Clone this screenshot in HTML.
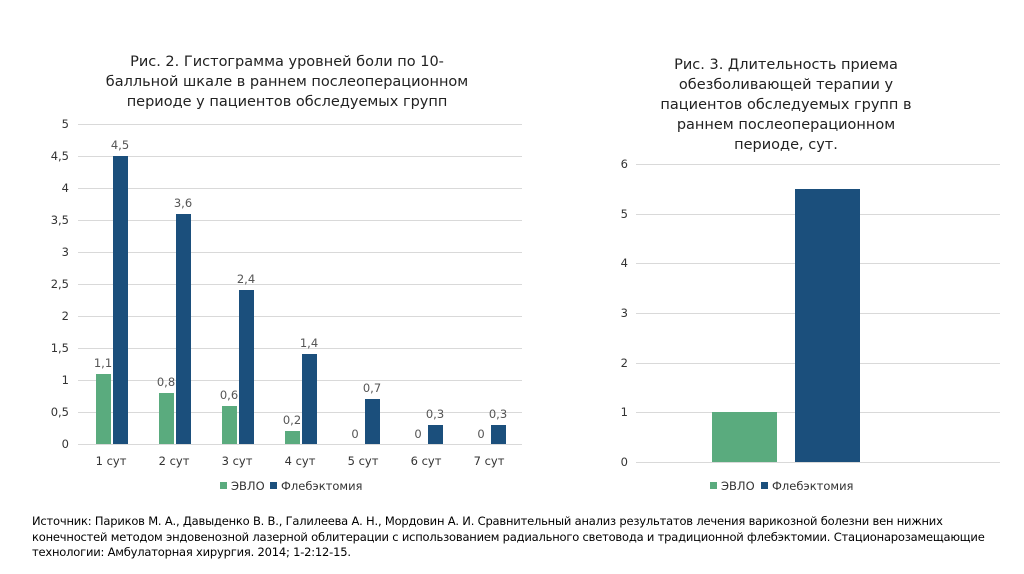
<!DOCTYPE html>
<html><head><meta charset="utf-8"><style>
body{margin:0;background:#fff;width:1024px;height:574px;overflow:hidden;font-family:"DejaVu Sans","Liberation Sans",sans-serif}
svg text{font-family:"DejaVu Sans","Liberation Sans",sans-serif}
.src{position:absolute;left:32px;top:514px;font-size:11.5px;letter-spacing:-0.2px;line-height:15.5px;color:#000;white-space:nowrap}
</style></head><body>
<svg width="1024" height="574" style="position:absolute;left:0;top:0">
<g font-size="14.5" fill="#222" text-anchor="middle">
<text x="287" y="66">Рис. 2. Гистограмма уровней боли по 10-</text>
<text x="287" y="86">балльной шкале в раннем послеоперационном</text>
<text x="287" y="106">периоде у пациентов обследуемых групп</text>
<text x="786" y="69">Рис. 3. Длительность приема</text>
<text x="786" y="89">обезболивающей терапии у</text>
<text x="786" y="109">пациентов обследуемых групп в</text>
<text x="786" y="129">раннем послеоперационном</text>
<text x="786" y="149">периоде, сут.</text>
</g>
<g stroke="#d9d9d9" stroke-width="1">
<line x1="78" x2="522" y1="124.5" y2="124.5"/><line x1="78" x2="522" y1="156.5" y2="156.5"/>
<line x1="78" x2="522" y1="188.5" y2="188.5"/><line x1="78" x2="522" y1="220.5" y2="220.5"/>
<line x1="78" x2="522" y1="252.5" y2="252.5"/><line x1="78" x2="522" y1="284.5" y2="284.5"/>
<line x1="78" x2="522" y1="316.5" y2="316.5"/><line x1="78" x2="522" y1="348.5" y2="348.5"/>
<line x1="78" x2="522" y1="380.5" y2="380.5"/><line x1="78" x2="522" y1="412.5" y2="412.5"/>
<line x1="78" x2="522" y1="444.5" y2="444.5"/>
<line x1="636" x2="1000" y1="164.5" y2="164.5"/><line x1="636" x2="1000" y1="214.5" y2="214.5"/>
<line x1="636" x2="1000" y1="263.5" y2="263.5"/><line x1="636" x2="1000" y1="313.5" y2="313.5"/>
<line x1="636" x2="1000" y1="363.5" y2="363.5"/><line x1="636" x2="1000" y1="412.5" y2="412.5"/>
<line x1="636" x2="1000" y1="462.5" y2="462.5"/>
</g>
<g font-size="11.5" fill="#333" text-anchor="end">
<text x="69" y="128">5</text><text x="69" y="160">4,5</text><text x="69" y="192">4</text>
<text x="69" y="224">3,5</text><text x="69" y="256">3</text><text x="69" y="288">2,5</text>
<text x="69" y="320">2</text><text x="69" y="352">1,5</text><text x="69" y="384">1</text>
<text x="69" y="416">0,5</text><text x="69" y="448">0</text>
<text x="628" y="168">6</text><text x="628" y="218">5</text><text x="628" y="267">4</text>
<text x="628" y="317">3</text><text x="628" y="367">2</text><text x="628" y="416">1</text>
<text x="628" y="466">0</text>
</g>
<g fill="#5aab7e">
<rect x="96" y="374" width="15" height="70"/><rect x="159" y="393" width="15" height="51"/>
<rect x="222" y="406" width="15" height="38"/><rect x="285" y="431" width="15" height="13"/>
<rect x="712" y="412" width="65" height="50"/>
</g>
<g fill="#1b4f7c">
<rect x="113" y="156" width="15" height="288"/><rect x="176" y="214" width="15" height="230"/>
<rect x="239" y="290" width="15" height="154"/><rect x="302" y="354" width="15" height="90"/>
<rect x="365" y="399" width="15" height="45"/><rect x="428" y="425" width="15" height="19"/>
<rect x="491" y="425" width="15" height="19"/>
<rect x="795" y="189" width="65" height="273"/>
</g>
<g font-size="11.5" fill="#555" text-anchor="middle">
<text x="103" y="367">1,1</text><text x="166" y="386">0,8</text><text x="229" y="399">0,6</text>
<text x="292" y="424">0,2</text><text x="355" y="438">0</text><text x="418" y="438">0</text><text x="481" y="438">0</text>
<text x="120" y="149">4,5</text><text x="183" y="207">3,6</text><text x="246" y="283">2,4</text>
<text x="309" y="347">1,4</text><text x="372" y="392">0,7</text><text x="435" y="418">0,3</text><text x="498" y="418">0,3</text>
</g>
<g font-size="11.5" fill="#333" text-anchor="middle">
<text x="111" y="465">1 сут</text><text x="174" y="465">2 сут</text><text x="237" y="465">3 сут</text>
<text x="300" y="465">4 сут</text><text x="363" y="465">5 сут</text><text x="426" y="465">6 сут</text>
<text x="489" y="465">7 сут</text>
</g>
<g font-size="11.5" fill="#333">
<rect x="220" y="482" width="7" height="7" fill="#5aab7e"/><text x="231" y="490">ЭВЛО</text>
<rect x="270" y="482" width="7" height="7" fill="#1b4f7c"/><text x="281" y="490">Флебэктомия</text>
<rect x="710" y="482" width="7" height="7" fill="#5aab7e"/><text x="721" y="490">ЭВЛО</text>
<rect x="761" y="482" width="7" height="7" fill="#1b4f7c"/><text x="772" y="490">Флебэктомия</text>
</g>
</svg>
<div class="src">Источник: Париков М. А., Давыденко В. В., Галилеева А. Н., Мордовин А. И. Сравнительный анализ результатов лечения варикозной болезни вен нижних<br>конечностей методом эндовенозной лазерной облитерации с использованием радиального световода и традиционной флебэктомии. Стационарозамещающие<br>технологии: Амбулаторная хирургия. 2014; 1-2:12-15.</div>
</body></html>
